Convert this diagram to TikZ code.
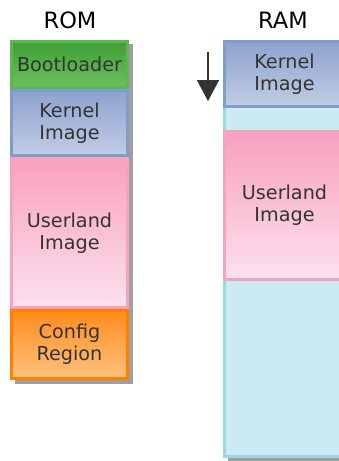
\documentclass[tikz,border=0pt]{standalone}
\usepackage{fontspec}
\setmainfont{DejaVu Sans}
\usetikzlibrary{positioning, arrows.meta}
\definecolor{txt}{HTML}{333333}
\definecolor{bootline}{HTML}{5CB84C}
\definecolor{boottop}{HTML}{3F9E35}
\definecolor{bootbot}{HTML}{6CC15E}
\definecolor{kernline}{HTML}{809CC8}
\definecolor{kerntop}{HTML}{8EA2CE}
\definecolor{kernbot}{HTML}{C2CDE5}
\definecolor{userline}{HTML}{F7A3C0}
\definecolor{usertop}{HTML}{F8A0C0}
\definecolor{userbot}{HTML}{FDE1EE}
\definecolor{confline}{HTML}{FF8000}
\definecolor{conftop}{HTML}{FF8C1E}
\definecolor{confbot}{HTML}{FFC27E}
\definecolor{freeline}{HTML}{9AD8E6}
\definecolor{freefill}{HTML}{CAEBF2}
\tikzset{
    x=1pt, y=1pt, % one unit is one pixel of the picture
    mem/.style={rectangle, draw, line width=3pt, minimum width=116pt, align=center,
                text=txt, inner sep=0pt, font=\fontsize{19.2}{22}\selectfont}, % every memory block
    title/.style={text=black, font=\fontsize{22.5}{26}\selectfont}, % column headings
    bootbox/.style={mem, draw=bootline, top color=boottop, bottom color=bootbot},
    kernbox/.style={mem, draw=kernline, top color=kerntop, bottom color=kernbot},
    userbox/.style={mem, draw=userline, top color=usertop, bottom color=userbot},
    confbox/.style={mem, draw=confline, top color=conftop, bottom color=confbot},
    freebox/.style={mem, draw=freeline, fill=freefill},
    node distance=0pt, % blocks are stacked with no gap
}
\begin{document}
\begin{tikzpicture}
    \useasboundingbox (0,0) rectangle (338,-461);
    % ROM column
    \fill[gray!75] (15,-44) rectangle (133,-384);
    \node[bootbox, minimum height=46pt, anchor=north west] (boot) at (10,-40) {Bootloader};
    \node[kernbox, minimum height=65pt, below=of boot] (romkern) {Kernel\\Image};
    \node[userbox, minimum height=149pt, below=of romkern] (romuser) {Userland\\Image};
    \node[confbox, minimum height=68pt, below=of romuser] (conf) {Config\\Region};
    \node[title] (rom) at (70,-20) {ROM};
    % RAM column
    \fill[gray!75] (228,-44) rectangle (346,-461);
    \node[freebox, minimum width=120pt, minimum height=415pt, anchor=north west] (ram) at (223,-40) {};
    \node[kernbox, minimum width=120pt, minimum height=65pt, anchor=north west] (ramkern) at (223,-40) {Kernel\\Image};
    \node[userbox, minimum width=120pt, minimum height=148pt, anchor=north west] (ramuser) at (223,-130) {Userland\\Image};
    \node[title] (ramtitle) at (283,-20) {RAM};
    % load direction
    \coordinate (arrtop) at (208,-52);
    \coordinate (arrbot) at (208,-101);
    \draw[txt, line width=1.5pt, -{Triangle[width=22pt,length=21pt]}] (arrtop) -- (arrbot);
\end{tikzpicture}
\end{document}
